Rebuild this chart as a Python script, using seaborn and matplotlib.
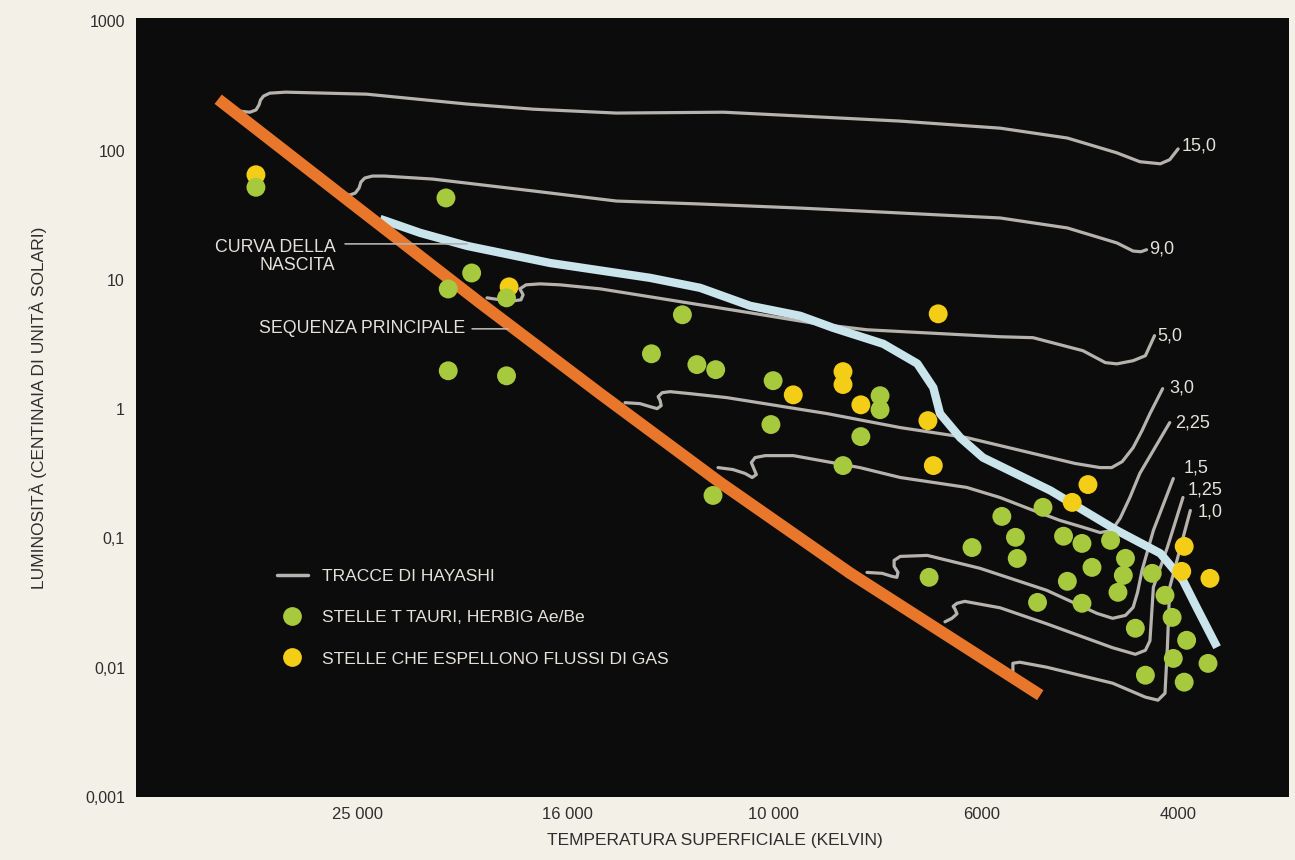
import numpy as np
import pandas as pd
import matplotlib
matplotlib.use("Agg")
import matplotlib.pyplot as plt
from matplotlib.lines import Line2D
from matplotlib.ticker import FixedLocator, FixedFormatter, NullLocator
import seaborn as sns

# ---------------------------------------------------------------- axes ticks
TEMP_TICKS = [25000, 16000, 10000, 6000, 4000]
TEMP_TICK_LABELS = ["25 000", "16 000", "10 000", "6000", "4000"]
LUM_TICKS = [0.001, 0.01, 0.1, 1, 10, 100, 1000]
LUM_TICK_LABELS = ["0,001", "0,01", "0,1", "1", "10", "100", "1000"]

# ------------------------------------------- Hayashi tracks (T in K, L)
MASS_LABELS = ["15,0", "9,0", "5,0", "3,0", "2,25", "1,5", "1,25", "1,0"]

TRACK_150_T = [32200, 31400, 31000, 30800, 30700, 30500, 30100, 29100, 24500, 19800,
               17200, 14300, 11200, 9360, 7330, 5780, 5030, 4540, 4330, 4150, 4070, 4000]
TRACK_150_L = [202, 198, 206, 225, 246, 264, 278, 283, 273, 229,
               209, 195, 198, 185, 169, 149, 125, 96, 82, 79, 85, 103]

TRACK_90_T = [25900, 25400, 25100, 24900, 24800, 24600, 24200, 23600, 21300, 17200,
              14300, 11800, 9360, 7330, 5780, 5030, 4540, 4390, 4320, 4270]
TRACK_90_L = [46.9, 45.3, 46.9, 51.3, 57.1, 61.3, 63.5, 63.5, 60.2, 48.7,
              40.7, 38.6, 35.9, 32.9, 30.1, 25.2, 19.3, 16.7, 16.5, 17.1]

TRACK_50_T = [18970, 18450, 17950, 17650, 17570, 17690, 17460, 16950, 16240, 14840, 13240,
              10540, 8980, 7950, 5780, 5400, 4870, 4650, 4540, 4390, 4280, 4200]
TRACK_50_L = [7.26, 7.01, 6.88, 7.01, 7.66, 8.52, 9.15, 9.31, 9.15, 8.52, 7.39,
              5.56, 4.57, 4.11, 3.63, 3.57, 2.83, 2.29, 2.24, 2.37, 2.59, 3.70]

TRACK_30_T = [14020, 13550, 13240, 13030, 12910, 12940, 13000, 12880, 12650, 12080,
              11110, 8760, 7330, 6230, 5210, 4950, 4700, 4590, 4490, 4390, 4310, 4240, 4130]
TRACK_30_L = [1.122, 1.103, 1.045, 1.009, 1.064, 1.163, 1.249, 1.341, 1.365, 1.317,
              1.227, 0.923, 0.720, 0.602, 0.422, 0.380, 0.353, 0.353, 0.393, 0.504,
              0.682, 0.923, 1.440]

TRACK_225_T = [11340, 10960, 10660, 10490, 10390, 10460, 10510, 10420, 10180, 9520,
               8090, 7330, 6230, 5780, 5400, 5110, 4870, 4700, 4590, 4510, 4420, 4330, 4070]
TRACK_225_L = [0.353, 0.341, 0.318, 0.296, 0.312, 0.353, 0.386, 0.422, 0.437, 0.437,
               0.353, 0.296, 0.248, 0.207, 0.165, 0.138, 0.122, 0.111, 0.115, 0.143,
               0.207, 0.318, 0.787]

TRACK_15_T = [7950, 7660, 7480, 7390, 7370, 7440, 7440, 7330, 6860, 6030,
              5250, 4730, 4580, 4460, 4390, 4350, 4310, 4210, 4040]
TRACK_15_L = [0.0546, 0.0537, 0.0509, 0.0500, 0.0546, 0.0608, 0.0676, 0.0726, 0.0739, 0.0587,
              0.0397, 0.0263, 0.0241, 0.0254, 0.0293, 0.0383, 0.0566, 0.1153, 0.2906]

TRACK_125_T = [6570, 6460, 6380, 6410, 6440, 6380, 6260, 5780, 5250, 4580,
               4370, 4280, 4240, 4210, 4090, 3960]
TRACK_125_L = [0.02265, 0.0241, 0.02612, 0.02829, 0.02985, 0.0315, 0.0326, 0.02906,
               0.02187, 0.01427, 0.0127, 0.01364, 0.01616, 0.04183, 0.0852, 0.2073]

TRACK_10_T = [5630, 5630, 5550, 5250, 4580, 4280, 4170, 4110, 4090, 4070, 3900]
TRACK_10_L = [0.00907, 0.01083, 0.01103, 0.01009, 0.00759, 0.00592, 0.00561, 0.00635,
              0.01427, 0.04183, 0.1645]

# ------------------------------------------------ birth line, main sequence
BIRTH_T = [23810, 21870, 19790, 16590, 13240, 11810, 10540, 9360, 8640, 7640, 7030,
           6760, 6650, 6330, 5990, 5210, 4540, 4150, 3960, 3850, 3690]
BIRTH_L = [29.6, 23.1, 18.3, 13.5, 10.36, 8.67, 6.30, 5.27, 4.26, 3.20, 2.25,
           1.466, 0.923, 0.602, 0.422, 0.2348, 0.1153, 0.0766, 0.0474, 0.0293, 0.0144]

MAIN_SEQ_T = [33590, 25370, 19250, 14840, 11290, 8280, 5320]
MAIN_SEQ_L = [249.5, 40.0, 6.64, 1.317, 0.271, 0.0537, 0.00613]

# ------------------------------------------------------------------ stars
TTAURI_T = [31000, 20700, 19600, 20600, 18200, 20600, 18200, 12300, 13200, 11900,
            11400, 10000, 7700, 7700, 10050, 8070, 8430, 11470, 6830, 5290,
            5760, 5600, 5580, 6150, 5070, 4880, 4600, 4460, 4480, 4530,
            4780, 5030, 4880, 5350, 4220, 4110, 4050, 4370, 3930, 4040,
            3760, 4280, 3950]
TTAURI_L = [52, 43, 11.3, 8.5, 7.26, 1.98, 1.81, 5.37, 2.68, 2.21,
            2.02, 1.66, 1.27, 0.99, 0.76, 0.613, 0.366, 0.215, 0.050, 0.174,
            0.148, 0.102, 0.070, 0.085, 0.104, 0.0915, 0.0966, 0.0701, 0.0518, 0.0383,
            0.0597, 0.0466, 0.0315, 0.0320, 0.0537, 0.0363, 0.0245, 0.0202, 0.0163, 0.0118,
            0.0108, 0.00875, 0.00773]

OUTFLOW_T = [31000, 18100, 9520, 8430, 8430, 8070, 6850, 6760, 6680, 4820,
             4980, 3950, 3970, 3745]
OUTFLOW_L = [65, 8.83, 1.29, 1.95, 1.55, 1.08, 0.815, 0.366, 5.46, 0.261,
             0.190, 0.0868, 0.0556, 0.0491]

LEGEND_LABELS = ["TRACCE DI HAYASHI", "STELLE T TAURI, HERBIG Ae/Be",
                 "STELLE CHE ESPELLONO FLUSSI DI GAS"]

# ---------------------------------------------------------------- colours
PAGE = "#f3f0e8"
PANEL = "#0d0c0c"
TRACK_GREY = "#b6b2ad"
BIRTH_BLUE = "#c9e4eb"
MS_ORANGE = "#e8772c"
GREEN = "#a7c93d"
YELLOW = "#f4cd16"
INK = "#e4e0da"
AXIS_INK = "#2e2e2e"

# ------------------------------------------------------ temperature scale
# Logarithmic in T, with the labelled temperatures spaced as on the chart;
# positions are interpolated in log T between them and extended linearly.
_TICK_LOG = np.log10(np.array(TEMP_TICKS[::-1], dtype=float))
_TICK_POS = np.array([0.0, 196.0, 405.0, 611.0, 821.0])


def _piecewise(u, xs, ys):
    u = np.asarray(u, dtype=float)
    out = np.interp(u, xs, ys)
    lo_slope = (ys[1] - ys[0]) / (xs[1] - xs[0])
    hi_slope = (ys[-1] - ys[-2]) / (xs[-1] - xs[-2])
    out = np.where(u < xs[0], ys[0] + (u - xs[0]) * lo_slope, out)
    out = np.where(u > xs[-1], ys[-1] + (u - xs[-1]) * hi_slope, out)
    return out


def temp_forward(t):
    t = np.clip(np.asarray(t, dtype=float), 1e-6, None)
    return _piecewise(np.log10(t), _TICK_LOG, _TICK_POS)


def temp_inverse(p):
    return 10.0 ** _piecewise(p, _TICK_POS, _TICK_LOG)


# ------------------------------------------------------------------ data
track_frames = []
track_pairs = [(TRACK_150_T, TRACK_150_L), (TRACK_90_T, TRACK_90_L),
               (TRACK_50_T, TRACK_50_L), (TRACK_30_T, TRACK_30_L),
               (TRACK_225_T, TRACK_225_L), (TRACK_15_T, TRACK_15_L),
               (TRACK_125_T, TRACK_125_L), (TRACK_10_T, TRACK_10_L)]
for label, (tt, ll) in zip(MASS_LABELS, track_pairs):
    track_frames.append(pd.DataFrame({"mass": label, "T": tt, "L": ll,
                                      "step": np.arange(len(tt))}))
tracks = pd.concat(track_frames, ignore_index=True)

birth = pd.DataFrame({"T": BIRTH_T, "L": BIRTH_L})
main_seq = pd.DataFrame({"T": MAIN_SEQ_T, "L": MAIN_SEQ_L})
stars = pd.concat([
    pd.DataFrame({"T": OUTFLOW_T, "L": OUTFLOW_L, "kind": "outflow"}),
    pd.DataFrame({"T": TTAURI_T, "L": TTAURI_L, "kind": "ttauri"}),
], ignore_index=True)

# ------------------------------------------------------------------ style
sns.set_style("dark", rc={"axes.facecolor": PANEL, "figure.facecolor": PAGE,
                          "axes.grid": False})
plt.rcParams["font.family"] = ["Liberation Sans", "DejaVu Sans"]

fig = plt.figure(figsize=(12.95, 8.60), dpi=100, facecolor=PAGE)
ax = fig.add_axes([136 / 1295, 1 - 797 / 860, (1289 - 136) / 1295, (797 - 18) / 860])
ax.set_facecolor(PANEL)
ax.set_xscale("function", functions=(temp_forward, temp_inverse))
ax.set_yscale("log")

# Hayashi tracks
sns.lineplot(data=tracks, x="T", y="L", units="mass", estimator=None, sort=False,
             color=TRACK_GREY, linewidth=2.3, ax=ax, legend=False,
             solid_joinstyle="round", solid_capstyle="round")
# birth line
sns.lineplot(data=birth, x="T", y="L", estimator=None, sort=False,
             color=BIRTH_BLUE, linewidth=6.0, ax=ax, legend=False,
             solid_joinstyle="round", solid_capstyle="butt")
# zero-age main sequence
sns.lineplot(data=main_seq, x="T", y="L", estimator=None, sort=False,
             color=MS_ORANGE, linewidth=8.5, ax=ax, legend=False,
             solid_joinstyle="round", solid_capstyle="butt")
# stars
sns.scatterplot(data=stars, x="T", y="L", hue="kind",
                palette={"outflow": YELLOW, "ttauri": GREEN},
                s=185, linewidth=0, alpha=1.0, ax=ax, legend=False, zorder=5)

# mass labels at the top of each track
LABEL_OFFSETS = [(4, 3), (3, 1), (3, 0), (7, 1), (5, 0), (10, 11), (5, 7), (7, -2)]
for label, (tt, ll), off in zip(MASS_LABELS, track_pairs, LABEL_OFFSETS):
    ax.annotate(label, xy=(tt[-1], ll[-1]), xytext=off, textcoords="offset pixels",
                ha="left", va="center", fontsize=13, color=INK, zorder=6)

# curve captions with leader lines
ax.text(26190, 15.19, "CURVA DELLA\nNASCITA", ha="right", va="center",
        multialignment="right", fontsize=12.8, color=INK, linespacing=1.05)
ax.annotate("", xy=(19790, 18.97), xytext=(25650, 18.97),
            arrowprops=dict(arrowstyle="-", color=TRACK_GREY, lw=1.2,
                            shrinkA=0, shrinkB=0))
ax.text(19880, 4.18, "SEQUENZA PRINCIPALE", ha="right", va="center",
        fontsize=12.8, color=INK)
ax.annotate("", xy=(18140, 4.18), xytext=(19580, 4.18),
            arrowprops=dict(arrowstyle="-", color=TRACK_GREY, lw=1.2,
                            shrinkA=0, shrinkB=0))

# legend
handles = [Line2D([0], [0], color=TRACK_GREY, lw=2.5),
           Line2D([0], [0], ls="none", marker="o", markersize=13.5,
                  markerfacecolor=GREEN, markeredgewidth=0),
           Line2D([0], [0], ls="none", marker="o", markersize=13.5,
                  markerfacecolor=YELLOW, markeredgewidth=0)]
leg = ax.legend(handles, LEGEND_LABELS, loc="upper left",
                bbox_to_anchor=((277 - 136) / 1153, (797 - 569) / 779),
                frameon=False, fontsize=12.6, labelcolor=INK, borderpad=0,
                borderaxespad=0, handlelength=1.75, handletextpad=0.8,
                labelspacing=1.48)

# axes
ax.set_xlim(40000, 3180)
ax.set_ylim(0.001, 1060)
ax.xaxis.set_major_locator(FixedLocator(TEMP_TICKS))
ax.xaxis.set_major_formatter(FixedFormatter(TEMP_TICK_LABELS))
ax.xaxis.set_minor_locator(NullLocator())
ax.yaxis.set_major_locator(FixedLocator(LUM_TICKS))
ax.yaxis.set_major_formatter(FixedFormatter(LUM_TICK_LABELS))
ax.yaxis.set_minor_locator(NullLocator())
ax.tick_params(axis="y", direction="in", length=17, width=1.6, color="#d8d5cf",
               pad=8, labelsize=11.5, labelcolor=AXIS_INK)
ax.tick_params(axis="x", direction="in", length=10, width=1.4, color="#d8d5cf",
               pad=7, labelsize=12, labelcolor=AXIS_INK)
for spine in ax.spines.values():
    spine.set_visible(False)

ax.set_xlabel("TEMPERATURA SUPERFICIALE (KELVIN)", fontsize=12.5, color=AXIS_INK)
ax.xaxis.set_label_coords(0.502, -0.046)
ax.set_ylabel("LUMINOSITÀ (CENTINAIA DI UNITÀ SOLARI)", fontsize=12.5, color=AXIS_INK)
ax.yaxis.set_label_coords(-0.077, 0.5)

fig.savefig("out.png", dpi=100, facecolor=PAGE)
